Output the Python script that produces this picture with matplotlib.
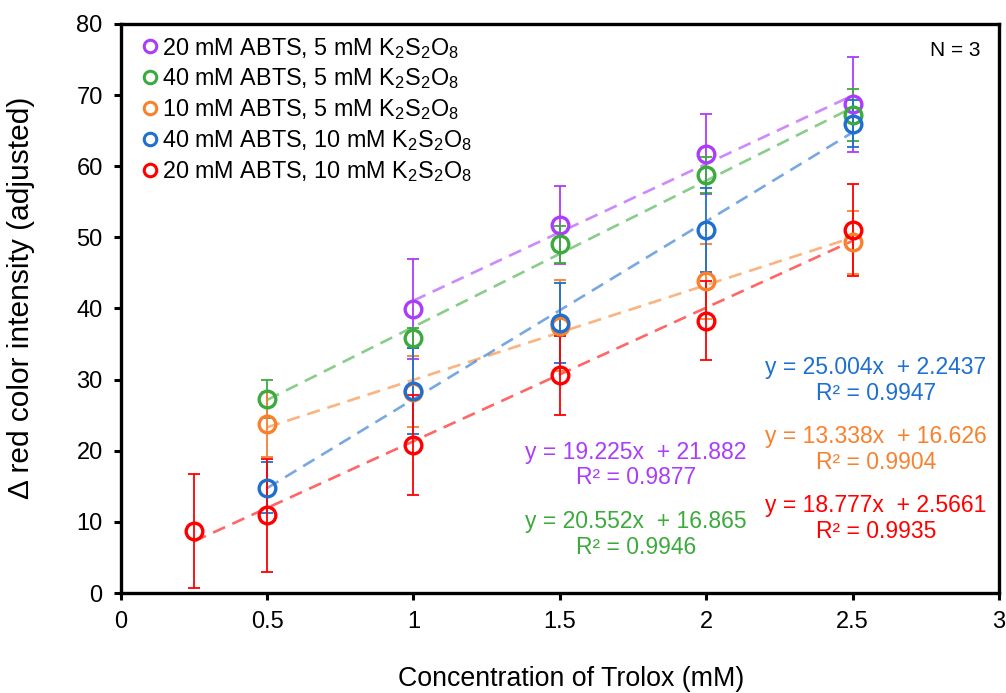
import matplotlib
matplotlib.use("Agg")
import matplotlib.pyplot as plt
from matplotlib.lines import Line2D
import numpy as np

plt.rcParams['font.family'] = ['Liberation Sans', 'DejaVu Sans']
plt.rcParams['mathtext.fontset'] = 'custom'
plt.rcParams['mathtext.rm'] = 'Liberation Sans'
plt.rcParams['mathtext.it'] = 'Liberation Sans:italic'

# Trolox concentration (mM) and red-channel response for each reagent mix
labels = [
    "20 mM ABTS, 5 mM K$_2$S$_2$O$_8$",
    "40 mM ABTS, 5 mM K$_2$S$_2$O$_8$",
    "10 mM ABTS, 5 mM K$_2$S$_2$O$_8$",
    "40 mM ABTS, 10 mM K$_2$S$_2$O$_8$",
    "20 mM ABTS, 10 mM K$_2$S$_2$O$_8$",
]
colors = ['#AA3CFA', '#3CAA3C', '#F8812E', '#1E6FD0', '#FF0000']

x_purple = [1.0, 1.5, 2.0, 2.5]
y_purple = [39.9, 51.7, 61.7, 68.7]
e_purple = [7.0, 5.5, 5.6, 6.7]

x_green = [0.5, 1.0, 1.5, 2.0, 2.5]
y_green = [27.3, 35.9, 49.0, 58.8, 67.2]
e_green = [2.7, 1.4, 2.6, 2.5, 3.7]

x_orange = [0.5, 1.0, 1.5, 2.0, 2.5]
y_orange = [23.7, 28.3, 37.6, 43.8, 49.3]
e_orange = [4.6, 5.0, 6.4, 5.3, 4.4]

x_blue = [0.5, 1.0, 1.5, 2.0, 2.5]
y_blue = [14.8, 28.4, 38.0, 51.0, 66.0]
e_blue = [3.6, 6.0, 5.6, 5.9, 3.3]

x_red = [0.25, 0.5, 1.0, 1.5, 2.0, 2.5]
y_red = [8.7, 10.9, 20.8, 30.6, 38.3, 51.0]
e_red = [8.0, 8.0, 7.0, 5.6, 5.5, 6.5]

# linear fits (slope, intercept, R^2)
slopes = [19.225, 20.552, 13.338, 25.004, 18.777]
intercepts = [21.882, 16.865, 16.626, 2.2437, 2.5661]
r2 = ["0.9877", "0.9946", "0.9904", "0.9947", "0.9935"]
slope_txt = ["19.225", "20.552", "13.338", "25.004", "18.777"]
icpt_txt = ["21.882", "16.865", "16.626", "2.2437", "2.5661"]
eq_pos = [(1.76, 18.0), (1.76, 8.2), (2.58, 20.2), (2.58, 29.9), (2.58, 10.5)]

xs = [x_purple, x_green, x_orange, x_blue, x_red]
ys = [y_purple, y_green, y_orange, y_blue, y_red]
es = [e_purple, e_green, e_orange, e_blue, e_red]

fig = plt.figure(figsize=(10.06, 6.93), dpi=100)
ax = fig.add_axes([0.120, 0.1443, 0.873, 0.8211])

handles = []
for i in range(5):
    x = np.array(xs[i])
    y = np.array(ys[i])
    fit_x = np.array([x.min(), x.max()])
    ax.plot(fit_x, slopes[i] * fit_x + intercepts[i], linestyle=(0, (5, 3)),
            color=colors[i], alpha=0.6, linewidth=1.9, zorder=2 + i * 0.1)
    ax.errorbar(x, y, yerr=es[i], fmt='none', ecolor=colors[i], elinewidth=1.3,
                capsize=4, capthick=1.3, zorder=3 + i * 0.1)
    ax.plot(x, y, 'o', markersize=12, markerfacecolor='none',
            markeredgecolor=colors[i], markeredgewidth=2.4, zorder=4 + i * 0.1)
    handles.append(Line2D([], [], marker='o', linestyle='none', markersize=9,
                          markerfacecolor='none', markeredgecolor=colors[i],
                          markeredgewidth=2.2))
    ax.text(eq_pos[i][0], eq_pos[i][1],
            f"y = {slope_txt[i]}x  + {icpt_txt[i]}\nR² = {r2[i]}",
            color=colors[i], fontsize=16.5, ha='center', va='center',
            multialignment='center', linespacing=1.15)

ax.legend(handles, labels, loc='upper left', frameon=False, fontsize=16.8,
          handlelength=0.6, handletextpad=0.2, labelspacing=0.255,
          borderaxespad=0.1, bbox_to_anchor=(0.0125, 1.0))

ax.text(2.85, 76.3, "N = 3", fontsize=15, ha='center', va='center')

ax.set_xlim(0, 3)
ax.set_ylim(0, 80)
ax.set_xticks([0, 0.5, 1, 1.5, 2, 2.5, 3])
ax.set_xticklabels(["0", "0.5", "1", "1.5", "2", "2.5", "3"])
ax.set_yticks(range(0, 81, 10))
ax.tick_params(axis='both', labelsize=17, width=2.2, length=5, direction='out', pad=8)
for s in ax.spines.values():
    s.set_linewidth(2.4)

ax.set_xlabel("Concentration of Trolox (mM)", fontsize=19.3)
ax.set_ylabel("Δ red color intensity (adjusted)", fontsize=21.5)
ax.xaxis.set_label_coords(0.5125, -0.128)
ax.yaxis.set_label_coords(-0.098, 0.518)

fig.savefig("out.png", dpi=100)
